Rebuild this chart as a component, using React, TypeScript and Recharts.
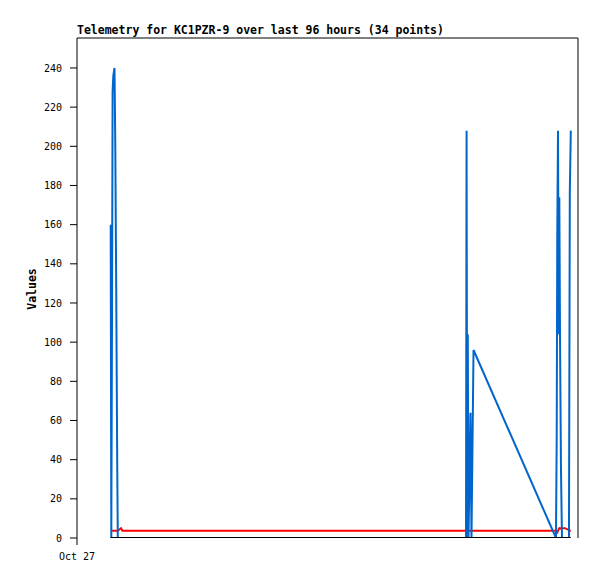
import React from "react";
import { LineChart, Line, XAxis, YAxis, ReferenceLine } from "recharts";

// hours since Oct 27 00:00 (x domain is 96 hours)
const hours: number[] = [
  6.458, 6.572, 6.707, 6.822, 6.956, 7.186, 7.339, 7.531, 7.703, 7.818, 8.431, 8.719,
  74.54, 74.65, 74.77, 74.88, 75.02, 75.21, 75.4, 75.59, 75.98,
  91.78, 91.92, 92.03, 92.17, 92.3, 92.42, 92.55, 92.74, 92.93, 93.51, 94.27, 94.43, 94.62,
];

const blueValues: number[] = [
  160, 0, 112, 228, 236, 240, 200, 120, 40, 0, 0, 0,
  0, 208, 0, 104, 0, 32, 64, 0, 96,
  0, 52, 156, 208, 104, 174, 104, 35, 0, 0, 0, 176, 208,
];

const redValues: number[] = [
  3.7, 3.7, 3.7, 3.7, 3.7, 3.7, 3.7, 3.7, 3.7, 3.7, 5, 3.7,
  3.7, 3.7, 3.7, 3.7, 3.7, 3.7, 3.7, 3.7, 3.7,
  3.7, 2.7, 2.7, 3.7, 4.5, 5, 4.8, 5, 5, 5, 4, 3.7, 3.7,
];

const blackValues: number[] = [
  0, 0, 0, 0, 0, 0, 0, 0, 0, 0, 0, 0,
  0, 0, 0, 0, 0, 0, 0, 0, 0,
  0, 0, 0, 0, 0, 0, 0, 0, 0, 0, 0, 0, 0,
];

const yTicks: number[] = [0, 20, 40, 60, 80, 100, 120, 140, 160, 180, 200, 220, 240];
const xTicks: number[] = [0];
const xTickLabels: string[] = ["Oct 27"];
const title = "Telemetry for KC1PZR-9 over last 96 hours (34 points)";
const yLabel = "Values";

const data = hours.map((h, i) => ({
  t: h,
  blue: blueValues[i],
  red: redValues[i],
  black: blackValues[i],
}));

const FONT = "'DejaVu Sans Mono', monospace";
const Y_MAX = 255.3;

export default function App() {
  return (
    <div style={{ position: "absolute", left: 0, top: 0, width: 597, height: 579, background: "#fff" }}>
      <LineChart
        width={597}
        height={579}
        data={data}
        margin={{ top: 38, right: 19, bottom: 0, left: 0 }}
      >
        <XAxis
          dataKey="t"
          type="number"
          domain={[0, 96]}
          ticks={xTicks}
          interval={0}
          tickFormatter={(v: number) => xTickLabels[xTicks.indexOf(v)] ?? ""}
          axisLine={false}
          tickLine={{ stroke: "#000" }}
          tickSize={7}
          tickMargin={8}
          height={41}
          allowDataOverflow
          tick={{ fill: "#000", fontSize: 10, fontFamily: FONT }}
        />
        <YAxis
          type="number"
          domain={[0, Y_MAX]}
          ticks={yTicks}
          interval={0}
          width={77}
          axisLine={{ stroke: "#000" }}
          tickLine={{ stroke: "#000" }}
          tickSize={7}
          tickMargin={8}
          allowDataOverflow
          tick={{ fill: "#000", fontSize: 10, fontFamily: FONT }}
        />
        <ReferenceLine y={Y_MAX} stroke="#000" strokeWidth={1} ifOverflow="extendDomain" />
        <ReferenceLine x={96} stroke="#000" strokeWidth={1} />
        <Line
          dataKey="red"
          type="linear"
          stroke="#ff0000"
          strokeWidth={2}
          dot={false}
          isAnimationActive={false}
        />
        <Line
          dataKey="blue"
          type="linear"
          stroke="#0066cc"
          strokeWidth={2}
          dot={false}
          isAnimationActive={false}
        />
        <Line
          dataKey="black"
          type="linear"
          stroke="#000000"
          strokeWidth={2}
          dot={false}
          isAnimationActive={false}
        />
      </LineChart>
      <svg
        width={597}
        height={579}
        style={{ position: "absolute", left: 0, top: 0, pointerEvents: "none" }}
      >
        <text x={77} y={34} fontFamily={FONT} fontWeight="bold" fontSize={11.5} fill="#000">
          {title}
        </text>
        <text
          x={36}
          y={289}
          transform="rotate(-90 36 289)"
          textAnchor="middle"
          fontFamily={FONT}
          fontWeight="bold"
          fontSize={11.5}
          fill="#000"
        >
          {yLabel}
        </text>
      </svg>
    </div>
  );
}
